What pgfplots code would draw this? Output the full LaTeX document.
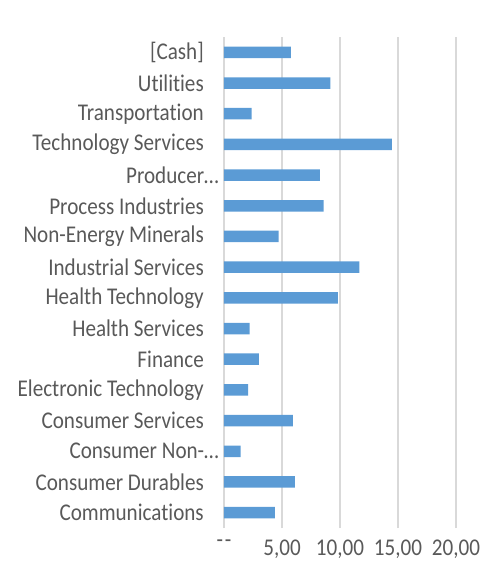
\documentclass[border=0pt]{standalone}
\usepackage{pgfplots}
\pgfplotsset{compat=1.18}
\usepackage{fontspec}
\setmainfont{Carlito}[Ligatures={NoCommon}, FakeStretch=0.88]
\definecolor{barblue}{HTML}{5B9BD5}
\definecolor{txtgray}{HTML}{595959}
\definecolor{gridgray}{HTML}{D9D9D9}
\newcommand\gap{\hbox to 15pt{}}
\begin{document}
\fontsize{24}{28}\selectfont
\begin{tikzpicture}
\useasboundingbox (-224pt,-36pt) rectangle (259pt,528pt);
\begin{axis}[
  at={(0,0)}, anchor=south west,
  scale only axis,
  width=232pt, height=491pt,
  xbar, bar width=11.5pt,
  xmin=0, xmax=20,
  ymin=-0.5, ymax=15.5,
  xtick={0,5,10,15,20},
  xticklabels={{\mbox{-}\kern2pt\mbox{-}},{5,00},{10,00},{15,00},{20,00}},
  ytick={0,...,15},
  yticklabels={Communications\gap,Consumer Durables\gap,Consumer Non-…,Consumer Services\gap,Electronic Technology\gap,Finance\gap,Health Services\gap,Health Technology\gap,Industrial Services\gap,Non-Energy Minerals\gap,Process Industries\gap,Producer…,Technology Services\gap,Transportation\gap,Utilities\gap,{[Cash]}\gap},
  xmajorgrids, major grid style={gridgray, line width=1.2pt},
  axis x line*=bottom, axis y line*=left,
  x axis line style={draw=none},
  y axis line style={draw=gridgray, line width=1.2pt},
  major tick length=0pt,
  tick label style={text=txtgray, font=\fontsize{24}{28}\selectfont},
  yticklabel style={xshift=3pt},
  xticklabel style={yshift=-4pt},
  axis line style={-},
  clip=false,
]
\addplot[fill=barblue, draw=none] coordinates {
(4.39,0) (6.11,1) (1.44,2) (5.94,3) (2.09,4) (3.01,5) (2.21,6) (9.81,7)
(11.68,8) (4.70,9) (8.58,10) (8.26,11) (14.48,12) (2.38,13) (9.18,14) (5.77,15)
};
\end{axis}
\end{tikzpicture}
\end{document}
